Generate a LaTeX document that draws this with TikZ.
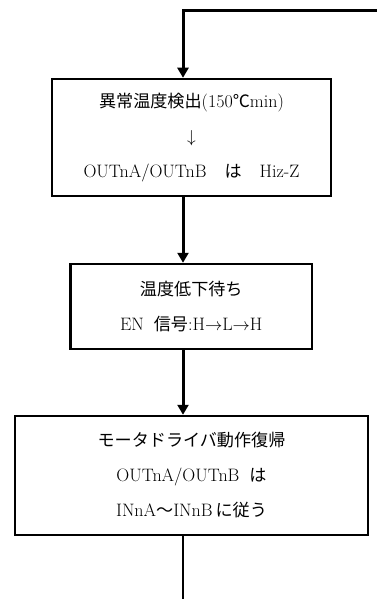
\documentclass[tikz,border=0pt]{standalone}
\usepackage{fontspec}
\newfontfamily\cjk{Noto Sans CJK JP}[Scale=0.95]
\usetikzlibrary{arrows.meta}
\newcommand{\jp}[1]{{\cjk #1}}
\begin{document}
\begin{tikzpicture}[x=1pt,y=-1pt,
  box/.style={draw, line width=2.5pt, align=center, font=\fontsize{18}{35}\selectfont, inner sep=0pt},
  conn/.style={line width=3pt, -{Triangle[width=11pt,length=10pt]}},
  lastline/.style={line width=2pt}]
\useasboundingbox (0,0) rectangle (377,599);
\coordinate (lx) at (183,0);
\coordinate (start) at (377,11);
\coordinate (finish) at (183,599);
\node[box, minimum width=279pt, minimum height=117pt] (b1) at (191.5,137.5)
  {\jp{異常温度検出}(150\jp{℃}min)\\$\downarrow$\\OUTnA/OUTnB\hspace{18pt}\jp{は}\hspace{18pt}Hiz-Z};
\node[box, minimum width=241.5pt, minimum height=85pt] (b2) at (191.25,306.5)
  {\jp{温度低下待ち}\\EN\hspace{10pt}\jp{信号}:H$\rightarrow$L$\rightarrow$H};
\node[box, minimum width=353pt, minimum height=119pt] (b3) at (191.5,475.5)
  {\jp{モータドライバ動作復帰}\\OUTnA/OUTnB\hspace{10pt}\jp{は}\\INnA\jp{～}INnB\,\jp{に従う}};
\draw[conn] (start) -| (b1.north -| lx);
\draw[conn] (b1.south -| lx) -- (b2.north -| lx);
\draw[conn] (b2.south -| lx) -- (b3.north -| lx);
\draw[lastline] (b3.south -| lx) -- (finish);
\end{tikzpicture}
\end{document}
